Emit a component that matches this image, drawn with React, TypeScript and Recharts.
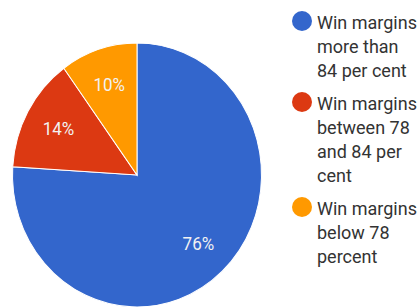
import { PieChart, Pie, Cell, Legend } from "recharts"

const categories = [
  "Win margins more than 84 per cent",
  "Win margins between 78 and 84 per cent",
  "Win margins below 78 percent",
]
const shares = [76, 14, 10]
const colors = ["#3366cc", "#dc3912", "#ff9900"]

const data = categories.map((name, i) => ({ name, value: shares[i] }))

const RADIAN = Math.PI / 180

function SliceLabel(props: any) {
  const { cx, cy, midAngle, outerRadius, value } = props
  const r = outerRadius * 0.72
  const x = cx + r * Math.cos(-midAngle * RADIAN)
  const y = cy + r * Math.sin(-midAngle * RADIAN)
  return (
    <text
      x={x}
      y={y}
      fill="#f2f2f2"
      fontSize={17}
      fontFamily="Roboto"
      textAnchor="middle"
      dominantBaseline="central"
    >
      {value}%
    </text>
  )
}

function LegendList() {
  return (
    <div style={{ fontFamily: "Roboto", fontSize: 18, color: "#333", lineHeight: "24px" }}>
      {categories.map((c, i) => (
        <div key={c} style={{ display: "flex", alignItems: "flex-start", marginBottom: 9 }}>
          <span
            style={{
              display: "inline-block",
              width: 20,
              height: 20,
              borderRadius: 10,
              background: colors[i],
              marginTop: 0,
              marginRight: 5,
              flexShrink: 0,
            }}
          />
          <span style={{ width: 104 }}>{c}</span>
        </div>
      ))}
    </div>
  )
}

export default function App() {
  return (
    <div style={{ position: "absolute", left: 0, top: 0, background: "#fff" }}>
      {/* the source picture is slightly stretched vertically */}
      <style>{`.recharts-surface { transform: scaleY(1.06); transform-origin: 137px 175px; }`}</style>
      <PieChart width={419} height={307} margin={{ top: 0, right: 0, bottom: 0, left: 0 }}>
        <Pie
          data={data}
          dataKey="value"
          cx={137}
          cy={175}
          outerRadius={124.5}
          startAngle={90}
          endAngle={-270}
          stroke="#fff"
          strokeWidth={1}
          label={SliceLabel}
          labelLine={false}
          isAnimationActive={false}
        >
          {data.map((d, i) => (
            <Cell key={d.name} fill={colors[i]} />
          ))}
        </Pie>
        <Legend
          content={() => <LegendList />}
          wrapperStyle={{ left: 292, top: 11, width: 127 }}
        />
      </PieChart>
    </div>
  )
}
